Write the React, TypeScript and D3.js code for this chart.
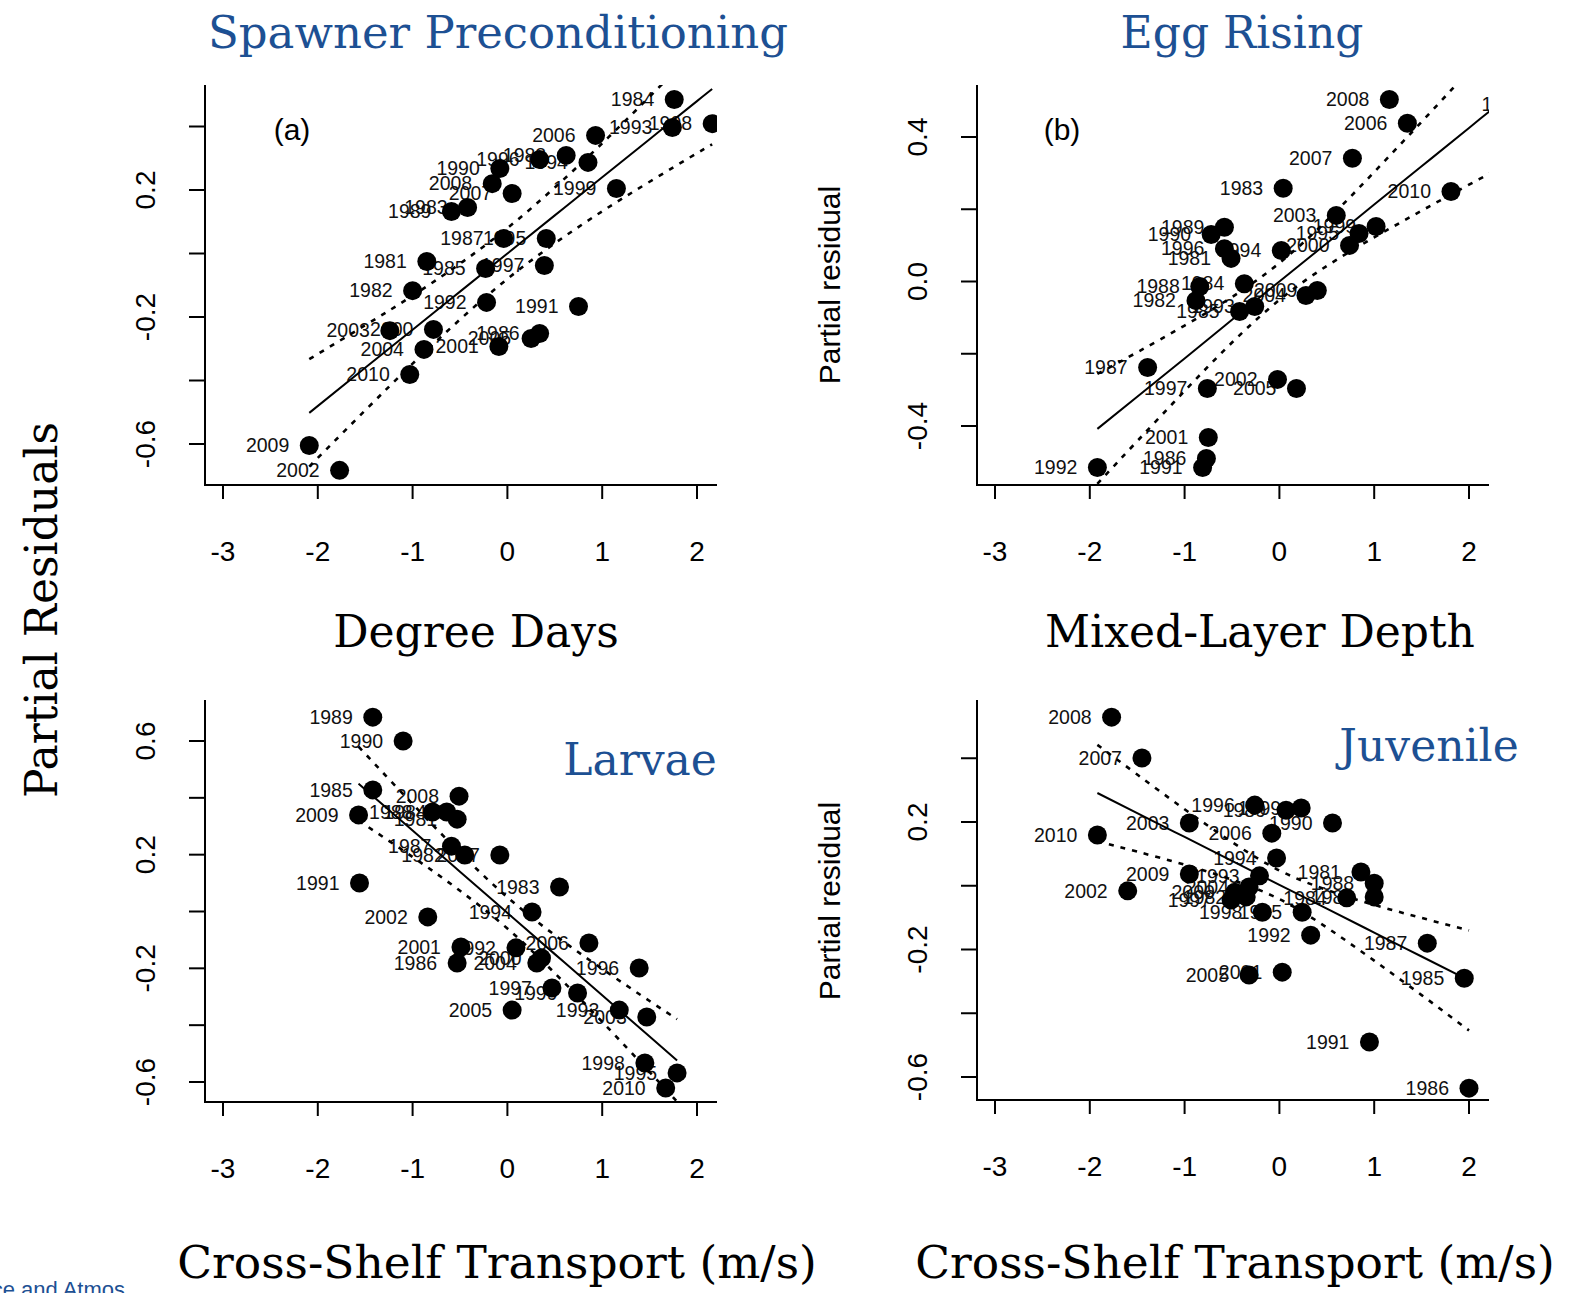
import React from 'react';
import * as d3 from 'd3';

// years labelling every point (same order in all four panels)
const years = [
  1981, 1982, 1983, 1984, 1985, 1986, 1987, 1988, 1989, 1990,
  1991, 1992, 1993, 1994, 1995, 1996, 1997, 1998, 1999, 2000,
  2001, 2002, 2003, 2004, 2005, 2006, 2007, 2008, 2009, 2010,
];

// (a) Spawner preconditioning: degree days
const degreeDays = [
  -0.85, -1.0, -0.42, 1.76, -0.23, 0.34, -0.04, 0.62, -0.59, -0.08,
  0.75, -0.22, 1.74, 0.85, 0.41, 0.34, 0.39, 2.16, 1.15, -0.78,
  -0.09, -1.77, -1.24, -0.88, 0.25, 0.93, 0.05, -0.16, -2.09, -1.03,
];
const residA = [
  -0.025, -0.117, 0.145, 0.485, -0.047, -0.252, 0.047, 0.309, 0.132, 0.268,
  -0.167, -0.154, 0.397, 0.287, 0.047, 0.296, -0.038, 0.409, 0.205, -0.239,
  -0.293, -0.683, -0.243, -0.302, -0.268, 0.372, 0.189, 0.22, -0.605, -0.381,
];
const fitXA = [-2.09, -1.5, -1, -0.5, 0, 0.5, 1, 1.5, 2, 2.16];
const fitA = [-0.502, -0.36, -0.24, -0.12, 0, 0.12, 0.24, 0.36, 0.48, 0.518];
const upA = [-0.333, -0.226, -0.133, -0.032, 0.08, 0.208, 0.347, 0.494, 0.644, 0.692];
const loA = [-0.671, -0.494, -0.347, -0.208, -0.08, 0.032, 0.133, 0.226, 0.316, 0.344];

// (b) Egg rising: mixed-layer depth
const mixedLayer = [
  -0.51, -0.88, 0.04, -0.37, -0.42, -0.77, -1.39, -0.84, -0.58, -0.72,
  -0.81, -1.92, -0.26, 0.02, 0.84, -0.58, -0.76, 2.8, 1.02, 0.74,
  -0.75, -0.02, 0.6, 0.28, 0.18, 1.35, 0.77, 1.16, 0.4, 1.81,
];
const residB = [
  0.064, -0.053, 0.258, -0.006, -0.083, -0.49, -0.238, -0.014, 0.15, 0.13,
  -0.515, -0.515, -0.069, 0.086, 0.133, 0.091, -0.296, 0.49, 0.152, 0.1,
  -0.432, -0.271, 0.183, -0.039, -0.296, 0.438, 0.341, 0.504, -0.025, 0.249,
];
const fitXB = [-1.92, -1.5, -1, -0.5, 0, 0.5, 1, 1.5, 2, 2.5, 2.8];
const fitB = [-0.408, -0.319, -0.213, -0.106, 0, 0.106, 0.213, 0.319, 0.425, 0.532, 0.595];
const upB = [-0.256, -0.196, -0.122, -0.043, 0.051, 0.169, 0.303, 0.442, 0.583, 0.725, 0.81];
const loB = [-0.56, -0.442, -0.303, -0.169, -0.051, 0.043, 0.122, 0.196, 0.268, 0.338, 0.38];

// (c) Larvae: cross-shelf transport
const transportC = [
  -0.53, -0.45, 0.55, -0.64, -1.42, -0.53, -0.59, -0.79, -1.42, -1.1,
  -1.56, 0.09, 1.18, 0.26, 1.79, 1.39, 0.47, 1.45, 0.74, 0.36,
  -0.49, -0.84, 1.47, 0.31, 0.05, 0.86, -0.08, -0.51, -1.57, 1.67,
];
const residC = [
  0.325, 0.199, 0.086, 0.35, 0.428, -0.181, 0.23, 0.35, 0.684, 0.6,
  0.1, -0.128, -0.347, -0.002, -0.568, -0.199, -0.269, -0.533, -0.287, -0.164,
  -0.125, -0.019, -0.371, -0.181, -0.347, -0.111, 0.199, 0.406, 0.34, -0.621,
];
const fitXC = [-1.57, -1, -0.5, 0, 0.5, 1, 1.5, 1.79];
const fitC = [0.45, 0.285, 0.14, -0.005, -0.15, -0.295, -0.44, -0.524];
const upC = [0.58, 0.378, 0.207, 0.05, -0.083, -0.202, -0.315, -0.379];
const loC = [0.32, 0.192, 0.073, -0.06, -0.217, -0.388, -0.565, -0.669];

// (d) Juvenile: cross-shelf transport
const transportD = [
  0.86, -0.35, 1.0, 0.71, 1.95, 2.0, 1.56, 1.0, 0.07, 0.56,
  0.95, 0.33, -0.21, -0.03, 0.24, -0.26, -0.51, -0.18, 0.23, -0.47,
  0.03, -1.6, -0.95, -0.32, -0.32, -0.08, -1.45, -1.77, -0.95, -1.92,
];
const residD = [
  0.043, -0.035, -0.035, -0.038, -0.29, -0.635, -0.18, 0.008, 0.237, 0.197,
  -0.49, -0.155, 0.031, 0.087, -0.083, 0.253, -0.045, -0.083, 0.244, -0.02,
  -0.271, -0.016, 0.197, -0.004, -0.28, 0.165, 0.401, 0.529, 0.037, 0.159,
];
const fitXD = [-1.92, -1.5, -1, -0.5, 0, 0.5, 1, 1.5, 2];
const fitD = [0.291, 0.228, 0.153, 0.078, 0.003, -0.072, -0.147, -0.222, -0.297];
const upD = [0.442, 0.349, 0.24, 0.137, 0.048, -0.013, -0.06, -0.101, -0.14];
const loD = [0.14, 0.107, 0.066, 0.019, -0.042, -0.131, -0.235, -0.343, -0.454];

const xTicks = [-3, -2, -1, 0, 1, 2];
const yTicksA = [-0.6, -0.4, -0.2, 0, 0.2, 0.4];
const yTicksB = [-0.4, -0.2, 0, 0.2, 0.4];
const yTicksC = [-0.6, -0.4, -0.2, 0, 0.2, 0.4, 0.6];
const yTicksD = [-0.6, -0.4, -0.2, 0, 0.2, 0.4];
const yLabelsA = ['-0.6', '', '-0.2', '', '0.2', ''];
const yLabelsB = ['-0.4', '', '0.0', '', '0.4'];
const yLabelsC = ['-0.6', '', '-0.2', '', '0.2', '', '0.6'];
const yLabelsD = ['-0.6', '', '-0.2', '', '0.2', ''];

const BLUE = '#1d5093';
const SERIF = '"DejaVu Serif", serif';
const SANS = '"Liberation Sans", Arial, sans-serif';

type PanelProps = {
  id: string;
  box: [number, number, number, number]; // left, right, top, bottom
  xRange: [number, number];
  yDomain: [number, number];
  yRange: [number, number];
  xs: number[];
  ys: number[];
  fitX: number[];
  fit: number[];
  up: number[];
  lo: number[];
  yTicks: number[];
  yLabels: string[];
};

const Panel = ({ id, box, xRange, yDomain, yRange, xs, ys, fitX, fit, up, lo, yTicks, yLabels }: PanelProps) => {
  const x = d3.scaleLinear().domain([-3, 2]).range(xRange);
  const y = d3.scaleLinear().domain(yDomain).range(yRange);
  const [x0, x1, y0, y1] = box;
  const line = d3.line<number>()
    .x((_, i) => x(fitX[i]))
    .y(d => y(d))
    .curve(d3.curveNatural);

  return (
    <g>
      <clipPath id={id}>
        <rect x={x0} y={y0} width={x1 - x0} height={y1 - y0} />
      </clipPath>
      <g clipPath={`url(#${id})`}>
        {/* labels first, dots drawn over them like in the original */}
        {xs.map((v, i) => (
          <text key={'t' + i} x={x(v) - 20} y={y(ys[i])} dy="0.35em" textAnchor="end"
            fontFamily={SANS} fontSize={19.5} fill="#111">{years[i]}</text>
        ))}
        <path d={line(fit) || ''} fill="none" stroke="#000" strokeWidth={2} />
        <path d={line(up) || ''} fill="none" stroke="#000" strokeWidth={2.6} strokeDasharray="5 7" />
        <path d={line(lo) || ''} fill="none" stroke="#000" strokeWidth={2.6} strokeDasharray="5 7" />
        {xs.map((v, i) => (
          <circle key={'c' + i} cx={x(v)} cy={y(ys[i])} r={9.5} fill="#000" />
        ))}
      </g>
      <path d={`M${x0},${y0}V${y1}H${x1}`} fill="none" stroke="#000" strokeWidth={2} />
      {xTicks.map(t => (
        <g key={'x' + t}>
          <line x1={x(t)} x2={x(t)} y1={y1} y2={y1 + 14} stroke="#000" strokeWidth={2} />
          <text x={x(t)} y={y1 + 76} textAnchor="middle" fontFamily={SANS} fontSize={28}>{t}</text>
        </g>
      ))}
      {yTicks.map((t, i) => (
        <g key={'y' + i}>
          <line x1={x0 - 16} x2={x0} y1={y(t)} y2={y(t)} stroke="#000" strokeWidth={2} />
          {yLabels[i] && (
            <text transform={`translate(${x0 - 50},${y(t)}) rotate(-90)`} textAnchor="middle"
              fontFamily={SANS} fontSize={28}>{yLabels[i]}</text>
          )}
        </g>
      ))}
    </g>
  );
};

export default function App() {
  return (
    <svg width={1570} height={1293} style={{ position: 'absolute', left: 0, top: 0, background: '#fff' }}>
      <rect width={1570} height={1293} fill="#fff" />
      <Panel id="pa" box={[205, 717, 85, 485]} xRange={[223, 697]} yDomain={[-0.6, 0.2]} yRange={[444, 190]}
        xs={degreeDays} ys={residA} fitX={fitXA} fit={fitA} up={upA} lo={loA}
        yTicks={yTicksA} yLabels={yLabelsA} />
      <Panel id="pb" box={[977, 1489, 85, 485]} xRange={[995, 1469]} yDomain={[-0.4, 0.4]} yRange={[426, 137]}
        xs={mixedLayer} ys={residB} fitX={fitXB} fit={fitB} up={upB} lo={loB}
        yTicks={yTicksB} yLabels={yLabelsB} />
      <Panel id="pc" box={[205, 717, 700, 1102]} xRange={[223, 697]} yDomain={[-0.6, 0.6]} yRange={[1082, 741]}
        xs={transportC} ys={residC} fitX={fitXC} fit={fitC} up={upC} lo={loC}
        yTicks={yTicksC} yLabels={yLabelsC} />
      <Panel id="pd" box={[977, 1489, 700, 1100]} xRange={[995, 1469]} yDomain={[-0.6, 0.2]} yRange={[1077, 822]}
        xs={transportD} ys={residD} fitX={fitXD} fit={fitD} up={upD} lo={loD}
        yTicks={yTicksD} yLabels={yLabelsD} />

      <text x={292} y={140} textAnchor="middle" fontFamily={SANS} fontSize={30}>(a)</text>
      <text x={1062} y={140} textAnchor="middle" fontFamily={SANS} fontSize={30}>(b)</text>

      <text transform="translate(840,285) rotate(-90)" textAnchor="middle" fontFamily={SANS} fontSize={30}>Partial residual</text>
      <text transform="translate(840,901) rotate(-90)" textAnchor="middle" fontFamily={SANS} fontSize={30}>Partial residual</text>

      <text x={498} y={48} textAnchor="middle" fontFamily={SERIF} fontSize={45} fill={BLUE}>Spawner Preconditioning</text>
      <text x={1242} y={48} textAnchor="middle" fontFamily={SERIF} fontSize={44} fill={BLUE}>Egg Rising</text>
      <text x={640} y={775} textAnchor="middle" fontFamily={SERIF} fontSize={44} fill={BLUE}>Larvae</text>
      <text x={1429} y={761} textAnchor="middle" fontFamily={SERIF} fontSize={44} fill={BLUE}>Juvenile</text>

      <text x={476} y={647} textAnchor="middle" fontFamily={SERIF} fontSize={44}>Degree Days</text>
      <text x={1260} y={647} textAnchor="middle" fontFamily={SERIF} fontSize={44}>Mixed-Layer Depth</text>
      <text x={497} y={1278} textAnchor="middle" fontFamily={SERIF} fontSize={45.5}>Cross-Shelf Transport (m/s)</text>
      <text x={1235} y={1278} textAnchor="middle" fontFamily={SERIF} fontSize={45.5}>Cross-Shelf Transport (m/s)</text>
      <text transform="translate(57,610) rotate(-90)" textAnchor="middle" fontFamily={SERIF} fontSize={44}>Partial Residuals</text>

      {/* footer text cut by the bottom edge, as in the source slide */}
      <text x={125} y={1297} textAnchor="end" fontFamily={SANS} fontSize={22} fill={BLUE}>ce and Atmos</text>
    </svg>
  );
}
